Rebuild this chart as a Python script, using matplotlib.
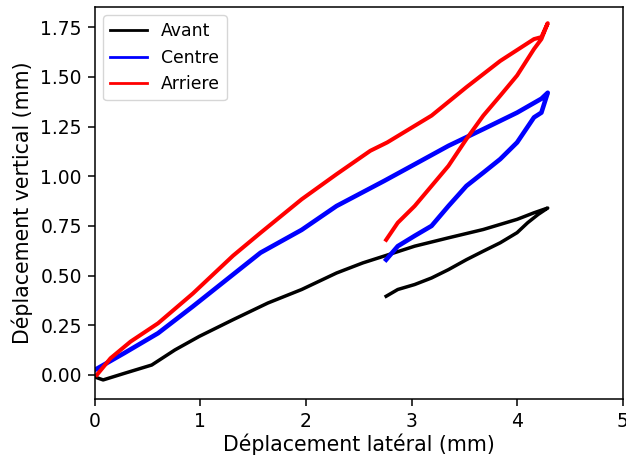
import matplotlib
matplotlib.use("Agg")
import matplotlib.pyplot as plt

# Avant (black): loading then unloading
avant_x = [0.00, 0.08, 0.28, 0.54, 0.76, 0.99, 1.31, 1.64, 1.96, 2.29, 2.54, 2.74,
           3.03, 3.35, 3.68, 4.00, 4.16, 4.29,
           4.20, 4.10, 4.00, 3.84, 3.68, 3.52, 3.35, 3.19, 3.03, 2.87, 2.76]
avant_y = [-0.01, -0.025, 0.008, 0.05, 0.126, 0.194, 0.278, 0.362, 0.43, 0.513, 0.564, 0.598,
           0.648, 0.69, 0.732, 0.783, 0.816, 0.84,
           0.808, 0.766, 0.716, 0.665, 0.623, 0.58, 0.53, 0.488, 0.455, 0.43, 0.396]

# Centre (blue)
centre_x = [0.00, 0.28, 0.60, 0.93, 1.25, 1.57, 1.96, 2.29, 2.74, 3.03, 3.35, 3.68,
            4.00, 4.23, 4.29,
            4.23, 4.16, 4.00, 3.84, 3.68, 3.52, 3.35, 3.19, 3.03, 2.87, 2.76]
centre_y = [0.025, 0.11, 0.21, 0.345, 0.48, 0.615, 0.73, 0.85, 0.976, 1.06, 1.153, 1.237,
            1.32, 1.39, 1.42,
            1.32, 1.296, 1.17, 1.086, 1.018, 0.951, 0.85, 0.75, 0.70, 0.648, 0.58]

# Arriere (red)
arriere_x = [0.02, 0.15, 0.34, 0.60, 0.93, 1.31, 1.57, 1.96, 2.29, 2.61, 2.77, 3.19,
             3.52, 3.84, 4.16, 4.23, 4.29,
             4.23, 4.16, 4.00, 3.84, 3.68, 3.52, 3.35, 3.19, 3.03, 2.87, 2.76]
arriere_y = [0.0, 0.084, 0.168, 0.26, 0.41, 0.60, 0.715, 0.884, 1.01, 1.128, 1.17, 1.305,
             1.448, 1.58, 1.69, 1.70, 1.77,
             1.69, 1.64, 1.507, 1.405, 1.305, 1.187, 1.052, 0.951, 0.85, 0.766, 0.68]

labels = ["Avant", "Centre", "Arriere"]
colors = ["black", "blue", "red"]

fig = plt.figure(figsize=(6.26, 4.57), dpi=100)
ax = fig.add_axes([94.7 / 626, 1 - 399 / 457, (622.7 - 94.7) / 626, (399 - 6.7) / 457])

series = [(avant_x, avant_y), (centre_x, centre_y), (arriere_x, arriere_y)]
widths = [2.5, 3.3, 2.9]
for (xs, ys), lab, col, lw in zip(series, labels, colors, widths):
    ax.plot(xs, ys, color=col, lw=lw, label=lab, solid_joinstyle="round")

ax.set_xlim(0, 5)
ax.set_ylim(-0.121, 1.853)
ax.set_xticks([0, 1, 2, 3, 4, 5])
ax.set_yticks([0.0, 0.25, 0.5, 0.75, 1.0, 1.25, 1.5, 1.75])
ax.tick_params(labelsize=13.5, length=4.7, width=1.1, pad=4.5)
for sp in ax.spines.values():
    sp.set_linewidth(1.1)
ax.set_xlabel("Déplacement latéral (mm)", fontsize=14.8, labelpad=2)
ax.set_ylabel("Déplacement vertical (mm)", fontsize=14.8, labelpad=5)

leg = ax.legend(loc="upper left", fontsize=12.4, handlelength=2.15)
for line in leg.get_lines():
    line.set_linewidth(2.0)

fig.savefig("out.png", dpi=100)
